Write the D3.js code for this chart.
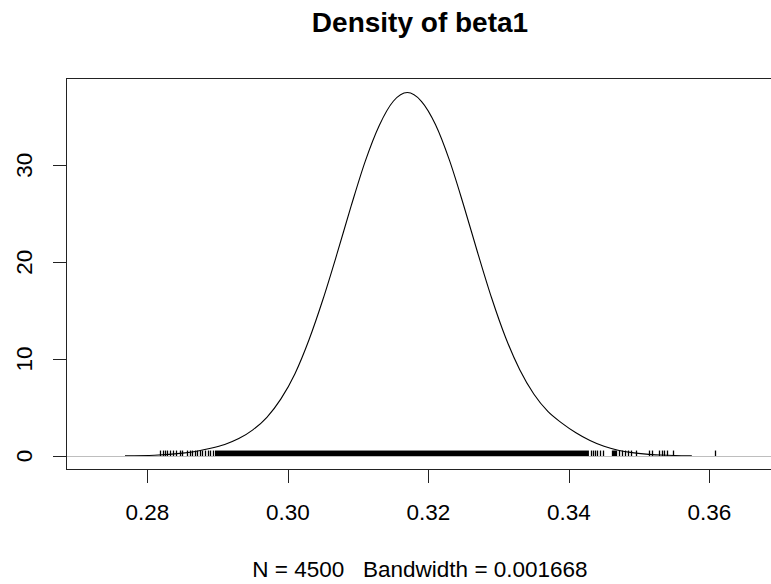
<!DOCTYPE html>
<html><head><meta charset="utf-8">
<script src="https://cdn.jsdelivr.net/npm/d3@7"></script>
<style>
html,body{margin:0;padding:0;background:#fff;}
svg{display:block;font-family:"Liberation Sans",Arial,sans-serif;}
text{white-space:pre;}
</style></head>
<body>
<svg id="chart" width="771" height="584"></svg>
<script>
const title = "Density of beta1";
const xLabel = "N = 4500   Bandwidth = 0.001668";
const xTicks = [0.28, 0.30, 0.32, 0.34, 0.36];
const yTicks = [0, 10, 20, 30];
const densX = [0.2768,0.281,0.285,0.287,0.289,0.291,0.293,0.295,0.297,0.299,0.301,0.303,0.305,0.307,0.309,0.311,0.313,0.315,0.317,0.319,0.321,0.323,0.325,0.327,0.329,0.331,0.333,0.335,0.337,0.339,0.341,0.343,0.345,0.347,0.349,0.351,0.353,0.355,0.3575];
const densY = [0.02,0.08,0.3,0.5,0.8,1.2,1.8,2.7,4.0,5.9,8.5,12.0,16.2,20.9,25.8,30.4,34.1,36.6,37.5,36.6,34.2,30.5,25.9,21.0,16.3,12.2,8.9,6.4,4.6,3.4,2.4,1.6,1.0,0.6,0.35,0.2,0.11,0.05,0.02];
const rugSparse = [0.28178,0.28214,0.28249,0.28285,0.28320,0.28363,0.28406,0.28463,0.28491,0.28562,0.28605,0.28633,0.28676,0.28705,0.28747,0.28776,0.28819,0.28861,0.28890,0.28932,
  0.34313,0.34342,0.34370,0.34399,0.34441,0.34484,0.34612,0.34626,0.34641,0.34655,0.34669,0.34712,0.34754,0.34797,0.34840,0.34883,0.34954,0.35139,0.35181,0.35281,0.35324,0.35352,0.35395,0.35480,0.36078];
const rugDense = [0.28961, 0.34285];

const svg = d3.select("#chart");
const x = d3.scaleLinear().domain([0.2684, 0.3692]).range([66, 774]);
const y = d3.scaleLinear().domain([-1.44, 39.0]).range([470, 78]);

svg.append("text").attr("x", 420).attr("y", 32).attr("text-anchor", "middle")
  .attr("font-size", 28).attr("font-weight", "bold").text(title);
svg.append("text").attr("x", 420).attr("y", 577).attr("text-anchor", "middle")
  .attr("font-size", 22.5).attr("xml:space","preserve").text(xLabel);

const line = d3.line().x((d,i)=>x(densX[i])).y(d=>y(d)).curve(d3.curveMonotoneX);
svg.append("path").attr("d", line(densY)).attr("fill","none").attr("stroke","#000").attr("stroke-width",1.1);

const rugG = svg.append("g");
rugG.append("rect").attr("x", x(rugDense[0])).attr("width", x(rugDense[1]) - x(rugDense[0]))
  .attr("y", y(0) - 5.5).attr("height", 5.5).attr("fill", "#000");
rugG.selectAll("line").data(rugSparse).join("line")
  .attr("x1", d=>Math.round(x(d))+0.5).attr("x2", d=>Math.round(x(d))+0.5)
  .attr("y1", y(0) - 5.5).attr("y2", y(0)).attr("stroke","#000").attr("stroke-width",1.3);

svg.append("line").attr("x1", 66).attr("x2", 774).attr("y1", Math.round(y(0))+0.5).attr("y2", Math.round(y(0))+0.5)
  .attr("stroke", "#bebebe").attr("stroke-width", 1);

svg.append("rect").attr("x", 66.5).attr("y", 78.5).attr("width", 707).attr("height", 391)
  .attr("fill","none").attr("stroke","#222").attr("stroke-width",1);

const xa = svg.append("g");
xa.selectAll("line").data(xTicks).join("line")
  .attr("x1", d=>Math.round(x(d))+0.5).attr("x2", d=>Math.round(x(d))+0.5)
  .attr("y1", 470).attr("y2", 483).attr("stroke","#222");
xa.selectAll("text").data(xTicks).join("text")
  .attr("x", d=>x(d)).attr("y", 520).attr("text-anchor","middle").attr("font-size",22.5)
  .text(d=>d3.format(".2f")(d));

const ya = svg.append("g");
ya.selectAll("line").data(yTicks).join("line")
  .attr("x1", 53).attr("x2", 66).attr("y1", d=>Math.round(y(d))+0.5).attr("y2", d=>Math.round(y(d))+0.5)
  .attr("stroke","#222");
ya.selectAll("text").data(yTicks).join("text")
  .attr("transform", d=>`translate(32,${y(d)}) rotate(-90)`)
  .attr("text-anchor","middle").attr("font-size",22.5).text(d=>d);
</script>
</body></html>
